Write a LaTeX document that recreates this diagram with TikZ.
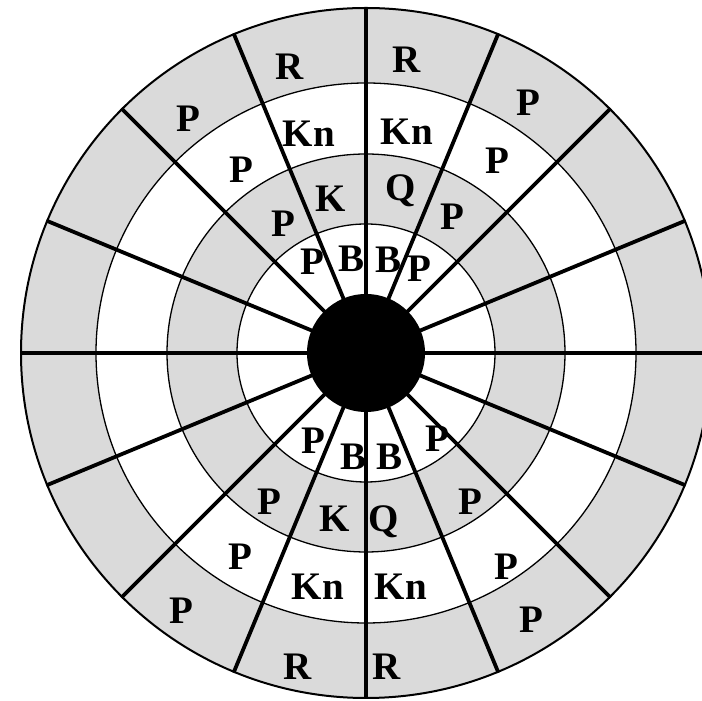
\documentclass[tikz,border=0pt]{standalone}
\usepackage{fontspec}
\setmainfont{Liberation Serif}
\usepackage{tikz}
\definecolor{ringgray}{RGB}{218,218,218}

\begin{document}
\begin{tikzpicture}[x=1pt,y=1pt,
    spoke/.style={line width=3.8pt},
    ringline/.style={line width=1.3pt},
    piece/.style={font=\fontsize{39}{39}\selectfont\bfseries,inner sep=0pt,text depth=0pt}]
        \useasboundingbox (0,0) rectangle (702,701);
        \clip (0,0) rectangle (702,701);
        \coordinate (c) at (366,348);
        % rings, shaded from the outside in
        \fill[ringgray] (c) circle[radius=345];
        \fill[white] (c) circle[radius=270];
        \fill[ringgray] (c) circle[radius=199];
        \fill[white] (c) circle[radius=129];
        \foreach \r in {129,199,270}
          \draw[ringline] (c) circle[radius=\r];
        \draw[line width=2pt] (c) circle[radius=345];
        % spokes
        \foreach \a in {0,22.5,...,337.5}
          \draw[spoke] (c) -- ++(\a:346);
        \draw[line width=1.1pt] (c) ++(90:345) coordinate (top) -- (c) -- ++(270:345) coordinate (bot);
        \fill (c) circle[radius=59];
        % pieces
        \foreach \pc/\x/\y [count=\n] in {R/290/634,R/407/641,Kn/309/567,Kn/407/569,
            K/331/502,Q/401/513,P/283/477,P/452/484,P/312/439,B/352/442,B/389/441,
            P/419/432,P/241/531,P/497/540,P/188/582,P/528/598,
            P/313/260,B/354/244,B/390/244,P/437/262,P/269/199,K/335/182,Q/384/182,
            P/470/199,P/240/144,Kn/318/114,Kn/401/114,P/506/134,P/181/90,R/298/34,
            R/387/34,P/531/81}
          \node[piece] (pc\n) at (\x,\y) {\pc};
      \end{tikzpicture}
\end{document}
